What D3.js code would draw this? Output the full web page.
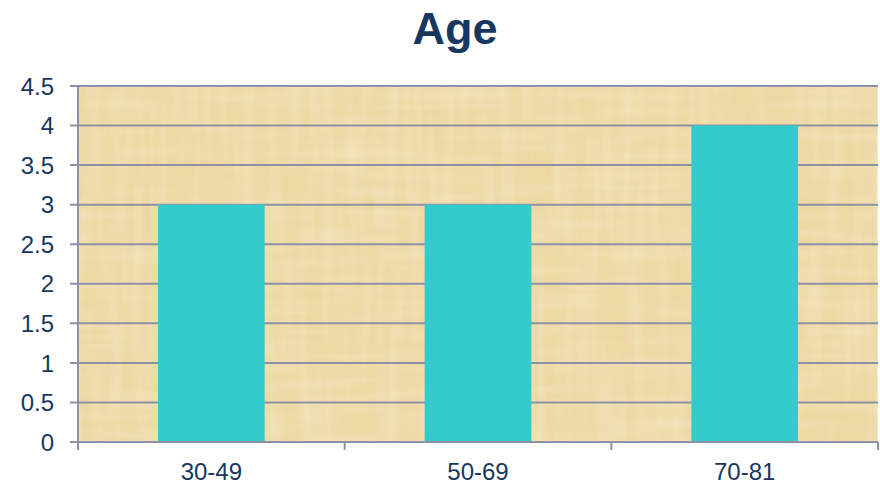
<!DOCTYPE html>
<html>
<head>
<meta charset="utf-8">
<script src="https://cdn.jsdelivr.net/npm/d3@7"></script>
<style>
  html, body { margin: 0; padding: 0; background: #ffffff; }
  svg { display: block; }
</style>
</head>
<body>
<svg id="chart" width="880" height="486"></svg>
<script>
// Chart data
const categories = ["30-49", "50-69", "70-81"];
const values = [3, 3, 4];
const yTicks = [0, 0.5, 1, 1.5, 2, 2.5, 3, 3.5, 4, 4.5];
const yTickLabels = ["0", "0.5", "1", "1.5", "2", "2.5", "3", "3.5", "4", "4.5"];
const title = "Age";

const W = 880, H = 486;
const plot = { left: 78, right: 878, top: 86, bottom: 442 };
const textColor = "#17375E";
const gridColor = "#8D91A6";
const barColor = "#33CCCC";
const font = "'Liberation Sans', Arial, sans-serif";

const svg = d3.select("#chart");

const x = d3.scaleBand()
  .domain(categories)
  .range([plot.left, plot.right])
  .paddingInner(0.6)
  .paddingOuter(0.3);

const y = d3.scaleLinear()
  .domain([0, 4.5])
  .range([plot.bottom, plot.top]);

// Papyrus-like plot background: tan base with soft crossing fibre streaks
const defs = svg.append("defs");
const f = defs.append("filter")
  .attr("id", "papyrus")
  .attr("x", 0).attr("y", 0).attr("width", 1).attr("height", 1)
  .attr("filterUnits", "objectBoundingBox");

function fibre(freq, seed, rgb, gain, offset, name) {
  f.append("feTurbulence")
    .attr("type", "fractalNoise")
    .attr("baseFrequency", freq)
    .attr("numOctaves", 2).attr("seed", seed)
    .attr("result", name + "N");
  f.append("feColorMatrix").attr("in", name + "N").attr("type", "matrix")
    .attr("values", `0 0 0 0 ${rgb[0]}  0 0 0 0 ${rgb[1]}  0 0 0 0 ${rgb[2]}  ${gain} 0 0 0 ${offset}`)
    .attr("result", name);
}
fibre("0.10 0.010", 4, [0.82, 0.70, 0.45], 0.6, -0.26, "vDark");
fibre("0.012 0.09", 11, [0.82, 0.70, 0.45], 0.5, -0.22, "hDark");
fibre("0.09 0.008", 23, [0.97, 0.89, 0.70], 0.7, -0.28, "vLight");
fibre("0.010 0.10", 31, [0.97, 0.89, 0.70], 0.6, -0.25, "hLight");
f.append("feFlood").attr("flood-color", "#EED8A1").attr("result", "base");
const merge = f.append("feMerge").attr("result", "merged");
["base", "vLight", "hLight", "vDark", "hDark"].forEach(n => merge.append("feMergeNode").attr("in", n));
f.append("feGaussianBlur").attr("in", "merged").attr("stdDeviation", 0.8);

svg.append("rect")
  .attr("x", plot.left).attr("y", plot.top)
  .attr("width", plot.right - plot.left)
  .attr("height", plot.bottom - plot.top)
  .attr("fill", "#EED8A1")
  .attr("filter", "url(#papyrus)");

// Horizontal gridlines with left tick marks
svg.append("g").selectAll("line")
  .data(yTicks)
  .join("line")
  .attr("x1", plot.left - 8)
  .attr("x2", plot.right)
  .attr("y1", d => y(d))
  .attr("y2", d => y(d))
  .attr("stroke", gridColor)
  .attr("stroke-width", 2);

// Bars
svg.append("g").selectAll("rect")
  .data(categories.map((c, i) => ({ c, v: values[i] })))
  .join("rect")
  .attr("x", d => x(d.c))
  .attr("width", x.bandwidth())
  .attr("y", d => y(d.v))
  .attr("height", d => y(0) - y(d.v))
  .attr("fill", barColor);

// Value axis line
svg.append("line")
  .attr("x1", plot.left).attr("x2", plot.left)
  .attr("y1", plot.top).attr("y2", plot.bottom + 8)
  .attr("stroke", gridColor).attr("stroke-width", 2);

// Category axis line and ticks between categories
svg.append("line")
  .attr("x1", plot.left).attr("x2", plot.right)
  .attr("y1", plot.bottom).attr("y2", plot.bottom)
  .attr("stroke", gridColor).attr("stroke-width", 2);
const step = x.step();
svg.append("g").selectAll("line")
  .data(categories)
  .join("line")
  .attr("x1", c => x(c) + x.bandwidth() / 2 + step / 2)
  .attr("x2", c => x(c) + x.bandwidth() / 2 + step / 2)
  .attr("y1", plot.bottom)
  .attr("y2", plot.bottom + 8)
  .attr("stroke", gridColor).attr("stroke-width", 2);

// Y tick labels
svg.append("g").selectAll("text")
  .data(yTicks)
  .join("text")
  .attr("x", 54)
  .attr("y", d => y(d))
  .attr("dy", "0.36em")
  .attr("text-anchor", "end")
  .attr("font-family", font)
  .attr("font-size", 24)
  .attr("fill", textColor)
  .text((d, i) => yTickLabels[i]);

// X tick labels
svg.append("g").selectAll("text")
  .data(categories)
  .join("text")
  .attr("x", c => x(c) + x.bandwidth() / 2)
  .attr("y", 480)
  .attr("text-anchor", "middle")
  .attr("font-family", font)
  .attr("font-size", 24)
  .attr("fill", textColor)
  .text(c => c);

// Title
svg.append("text")
  .attr("x", 455)
  .attr("y", 44)
  .attr("text-anchor", "middle")
  .attr("font-family", font)
  .attr("font-weight", "bold")
  .attr("font-size", 45)
  .attr("fill", textColor)
  .text(title);
</script>
</body>
</html>
